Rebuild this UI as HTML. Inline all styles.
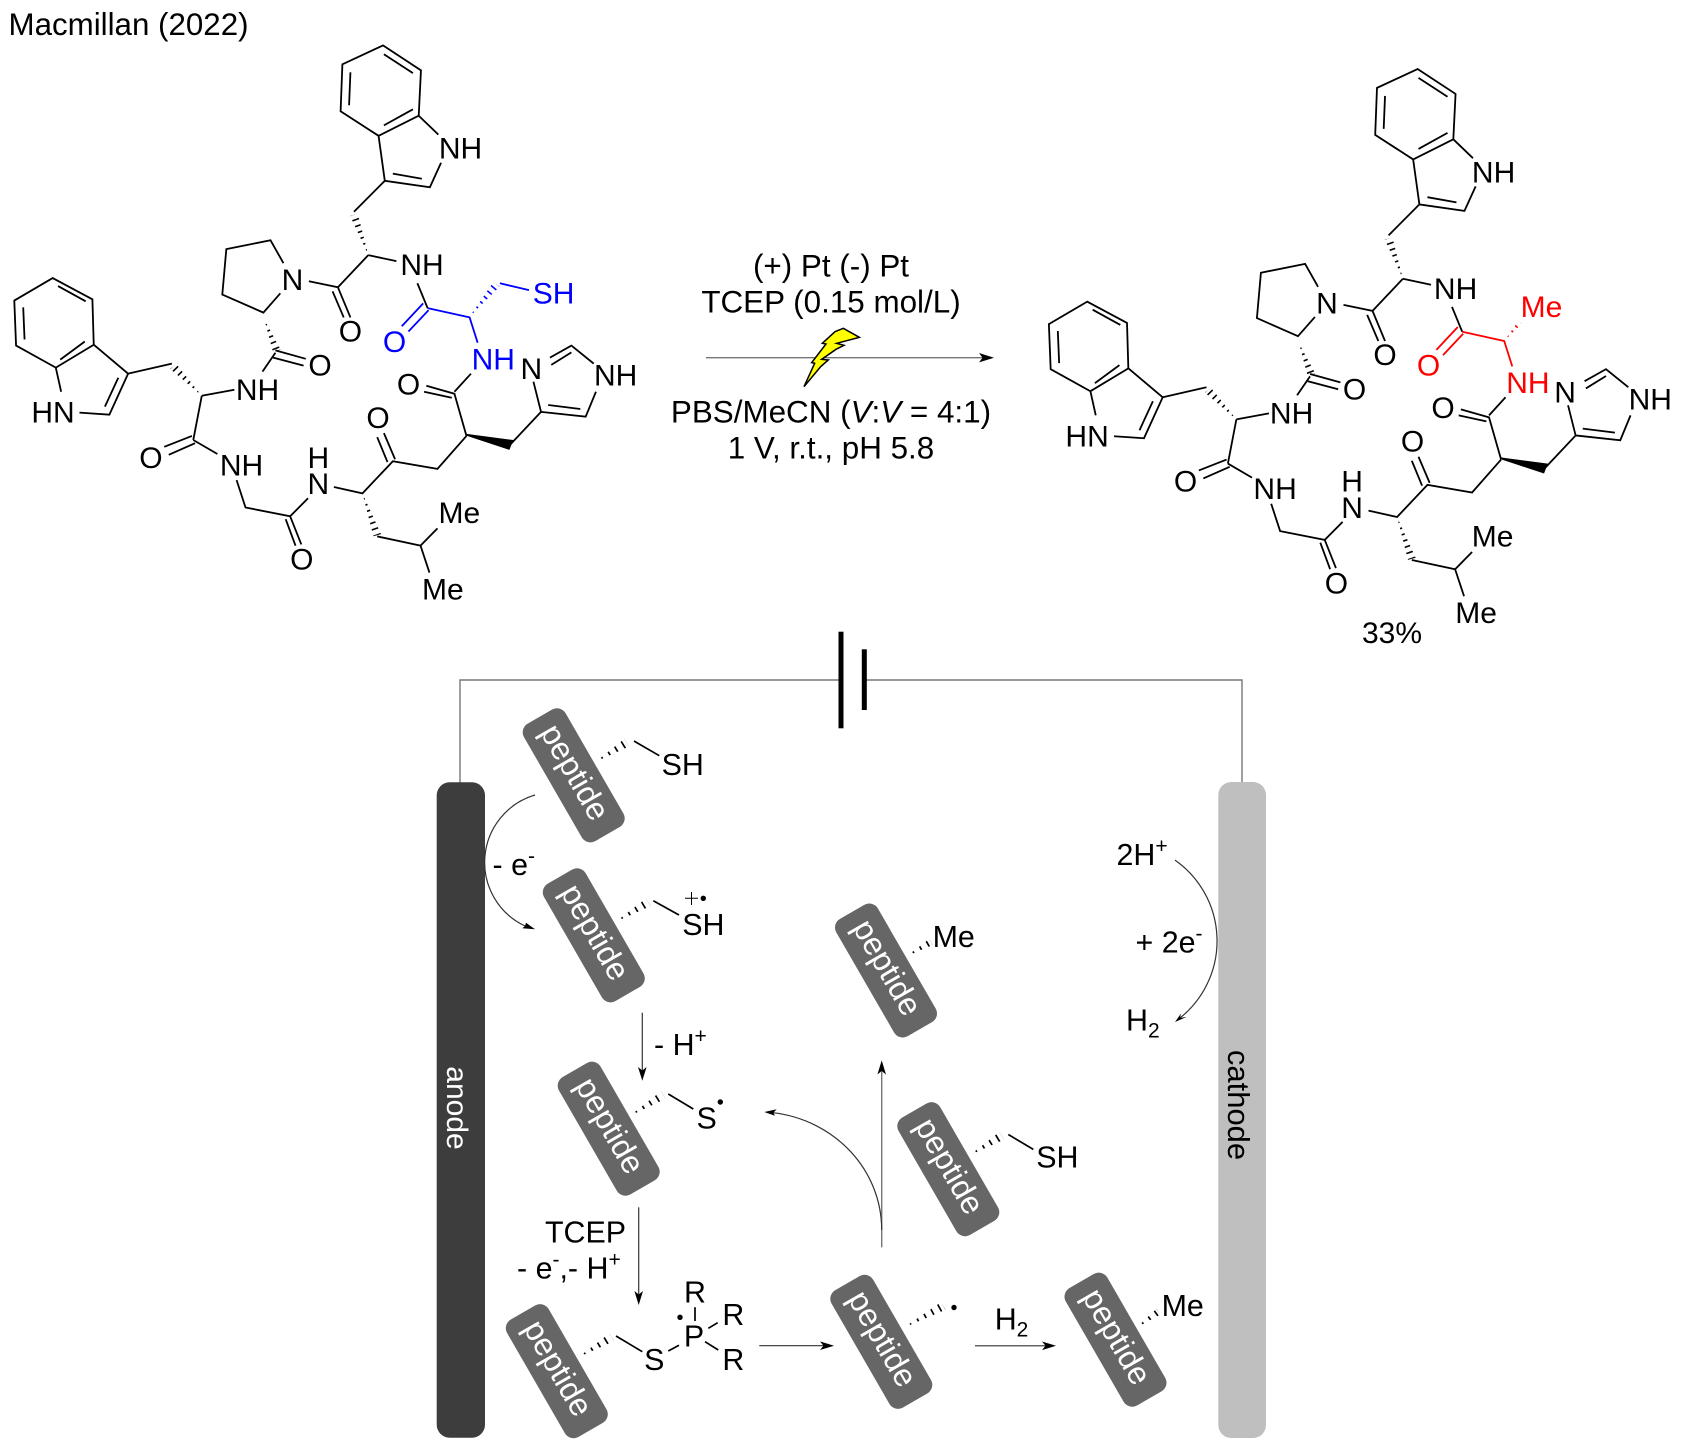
<!DOCTYPE html>
<html><head><meta charset="utf-8">
<style>
html,body{margin:0;padding:0;background:#fff}
svg{display:block}
text{font-family:"Liberation Sans",sans-serif;fill:#000}
.ns,.ns *{vector-effect:non-scaling-stroke}
.c text{text-anchor:middle}
.m{font-size:30px}
.r{font-size:31.4px}
.b{font-size:30.4px}
.pep text{font-size:32px;fill:#fff;text-anchor:middle}
</style></head>
<body>
<svg xmlns="http://www.w3.org/2000/svg" width="1681" height="1448" viewBox="0 0 1681 1448">
<defs>
<g id="bonds" class="ns" transform="scale(.4464,.4018)" fill="none" stroke="#000" stroke-width="1.8">
  <polygon points="825,635 801.6,532.3 784.4,537.7" fill="#000" stroke="none"/>
  <line x1="825" y1="635" x2="793" y2="535" stroke="#fff" stroke-width="13" stroke-dasharray="4.8 1.6"/>
  <polygon points="592,795 628.5,870 611.5,876" fill="#000" stroke="none"/>
  <line x1="592" y1="795" x2="620" y2="873" stroke="#fff" stroke-width="13" stroke-dasharray="4.8 1.6"/>
  <polygon points="452,985 394.8,906 381.2,918" fill="#000" stroke="none"/>
  <line x1="452" y1="985" x2="388" y2="912" stroke="#fff" stroke-width="13" stroke-dasharray="4.8 1.6"/>
  <polygon points="812,1228 853.6,1329.3 836.4,1334.7" fill="#000" stroke="none"/>
  <line x1="812" y1="1228" x2="845" y2="1332" stroke="#fff" stroke-width="13" stroke-dasharray="4.8 1.6"/>
  <!-- top indole -->
  <path d="M858 113L943 175L938 288L848 338L763 277L767 160ZM860 135L925 182M925 272L860 312M782 262L785 180M938 288L982 335M988 405L963 466L862 450L848 338M880 432L945 445M862 450L793 527"/>
  <!-- Trp-Pro -->
  <path d="M825 635L888 650M825 635L757 715L692 700M757 715L785 790M745 725L770 790M635 655L606 598L507 620L498 733L590 778L628 730"/>
  <path d="M617 872L685 893M612 890L680 910M617 878L588 925M525 970L452 985M385 905L287 930L245 1032L178 1027M265 940L235 1012M137 975L125 915L210 858L207 745L118 692L32 748L36 860L125 915M287 930L210 858M135 895L190 850M192 750L130 712M52 765L55 845"/>
  <path d="M452 985L433 1095M430 1085L368 1112M437 1103L378 1132M433 1095L487 1130M530 1195L550 1263L650 1285L690 1240M650 1285L675 1355M640 1292L662 1358M748 1212L812 1228L880 1148L980 1167L1045 1085M885 1143L860 1078M868 1150L845 1088M845 1335L942 1358L980 1315M942 1358L962 1425"/>
  <polygon points="1045,1082 1147,1097 1140,1117" fill="#000" stroke="#000"/>
  <path d="M1140 1110L1212 1025L1195 950M1212 1025L1312 1037L1335 975M1228 1008L1300 1018M1330 905L1280 860L1232 890M1280 877L1235 908"/>
  <path d="M1045 1085L1018 980L955 960M1012 990L950 975M1018 975L1055 930M958 767L935 705"/>
</g>
<g id="cys" class="ns" transform="scale(.4464,.4018)" fill="none" stroke="currentColor" stroke-width="1.8">
  <path d="M1070 853L1052 790L958 767M948 755L900 812M960 772L915 825"/>
</g>
<g id="pep" class="pep" >
  <rect x="-67.75" y="-24" width="135.5" height="48" rx="10" fill="#666"/>
  <text x="-2" y="8">peptide</text>
</g>
</defs>

<text x="8.5" y="35" style="font-size:31.3px">Macmillan (2022)</text>

<!-- left molecule -->
<g color="#0000ff">
  <g class="ns" transform="scale(.4464,.4018)">
    <polygon points="1052,788 1119,713.4 1105,702.6" fill="#0000ff"/>
    <line x1="1052" y1="788" x2="1112" y2="708" stroke="#fff" stroke-width="13" stroke-dasharray="4.8 1.6"/>
  </g>
  <use href="#bonds"/>
  <use href="#cys"/>
  <g class="ns" transform="scale(.4464,.4018)"><path d="M1120 705L1185 722" fill="none" stroke="#0000ff" stroke-width="1.8"/></g>
</g>
<g class="c m">
  <text x="460.5" y="158.7">NH</text>
  <text x="422" y="275.2">NH</text>
  <text x="292.4" y="290">N</text>
  <text x="350.4" y="341.5">O</text>
  <text x="320" y="375.7">O</text>
  <text x="257.5" y="399.8">NH</text>
  <text x="53" y="422.7">HN</text>
  <text x="150.9" y="468">O</text>
  <text x="241.5" y="475.3">NH</text>
  <text x="318.3" y="468">H</text>
  <text x="318.3" y="494.2">N</text>
  <text x="301.8" y="569.7">O</text>
  <text x="378" y="427.9">O</text>
  <text x="408.5" y="394.5">O</text>
  <text x="459.3" y="523.1">Me</text>
  <text x="442.9" y="599.4">Me</text>
  <text x="531.3" y="378.9">N</text>
  <text x="615.7" y="385.7">NH</text>
  <text x="553.6" y="303.3" style="fill:#0000ff">SH</text>
  <text x="394.6" y="352" style="fill:#0000ff">O</text>
  <text x="493.3" y="369.6" style="fill:#0000ff">NH</text>
</g>

<!-- right molecule -->
<g transform="translate(1034.6,23.6)" color="#ff0000">
  <g class="ns" transform="scale(.4464,.4018)">
    <polygon points="1052.6,788.8 1091,747 1083,741" fill="#ff0000"/>
    <line x1="1052.6" y1="788.8" x2="1087" y2="744" stroke="#fff" stroke-width="10" stroke-dasharray="4.8 1.6"/>
  </g>
  <use href="#bonds"/>
  <use href="#cys"/>
  <g class="c m">
    <text x="459" y="158.7">NH</text>
    <text x="421" y="275.2">NH</text>
    <text x="292.4" y="290">N</text>
    <text x="350.4" y="341.5">O</text>
    <text x="320" y="375.7">O</text>
    <text x="257" y="399.8">NH</text>
    <text x="52.5" y="422.7">HN</text>
    <text x="150.9" y="468">O</text>
    <text x="240.5" y="475.3">NH</text>
    <text x="317.5" y="468">H</text>
    <text x="317.5" y="494.2">N</text>
    <text x="301.8" y="569.7">O</text>
    <text x="378" y="427.9">O</text>
    <text x="408.5" y="394.5">O</text>
    <text x="458" y="523.1">Me</text>
    <text x="441.5" y="599.4">Me</text>
    <text x="530.5" y="378.9">N</text>
    <text x="615.7" y="385.7">NH</text>
    <text x="506.9" y="293.6" style="fill:#ff0000">Me</text>
    <text x="394" y="352" style="fill:#ff0000">O</text>
    <text x="493.3" y="369.6" style="fill:#ff0000">NH</text>
  </g>
</g>
<text x="1392" y="643" class="m" text-anchor="middle">33%</text>

<!-- reaction arrow -->
<line x1="706" y1="357.7" x2="985" y2="357.7" stroke="#777" stroke-width="1.4"/>
<polygon points="994,357.7 979,353 982.5,357.7 979,362.4" fill="#000"/>
<g transform="translate(790,320) scale(.3333)">
  <polygon points="208,52 160,25 135,35 97,70 108,72 65,128 74,130 42,200 92,140 115,120 95,118 138,88 162,76 140,70" fill="#ffff00" stroke="#000" stroke-width="4.5" stroke-linejoin="miter"/>
</g>
<g class="c r">
  <text x="831" y="276.7">(+) Pt (-) Pt</text>
  <text x="831" y="312.3">TCEP (0.15 mol/L)</text>
  <text x="831" y="422.7">PBS/MeCN (<tspan font-style="italic">V</tspan>:<tspan font-style="italic">V</tspan> = 4:1)</text>
  <text x="831" y="458.3">1 V, r.t., pH 5.8</text>
</g>

<!-- circuit -->
<path d="M460 783V680H841M864 680H1242V786" fill="none" stroke="#777" stroke-width="1.4"/>
<rect x="838.5" y="631.7" width="5" height="96.6" fill="#000"/>
<rect x="861.8" y="649.3" width="5" height="60.7" fill="#000"/>
<rect x="436.7" y="782.3" width="48.3" height="655.4" rx="13" fill="#3d3d3d"/>
<rect x="1218.3" y="782" width="47.7" height="656" rx="13" fill="#bfbfbf"/>
<text transform="translate(447,1108) rotate(90)" text-anchor="middle" style="font-size:30px;fill:#fff">anode</text>
<text transform="translate(1228,1105) rotate(90)" text-anchor="middle" style="font-size:31px">cathode</text>

<!-- hashed bonds bottom -->
<g>
  <g fill="#000">
    <polygon points="595.7,761.7 629,746.5 624.4,738.9"/>
    <polygon points="615.7,921.7 650.6,906.1 646,898.5"/>
    <polygon points="630,1115.7 665.6,1098.8 661,1091.2"/>
    <polygon points="578.3,1357.3 614,1341.1 609.4,1333.5"/>
    <polygon points="904,1327.5 945.6,1309.8 941,1302.2"/>
    <polygon points="970,1155 1004,1139.6 999.4,1132"/>
    <polygon points="907,956 932.8,945 929.2,939"/>
    <polygon points="1136.7,1327.5 1160,1314.7 1156.5,1308.7"/>
  </g>
  <g stroke="#fff" stroke-width="12" stroke-dasharray="6.6 1.7" fill="none">
    <line x1="595.7" y1="761.7" x2="626.7" y2="742.7"/>
    <line x1="615.7" y1="921.7" x2="648.3" y2="902.3"/>
    <line x1="630" y1="1115.7" x2="663.3" y2="1095"/>
    <line x1="578.3" y1="1357.3" x2="611.7" y2="1337.3"/>
    <line x1="904" y1="1327.5" x2="943.3" y2="1306"/>
    <line x1="970" y1="1155" x2="1001.7" y2="1135.8"/>
    <line x1="907" y1="956" x2="931" y2="942"/>
    <line x1="1136.7" y1="1327.5" x2="1158.3" y2="1311.7"/>
  </g>
</g>
<!-- pills -->
<use href="#pep" transform="translate(573.7,775.3) rotate(60)"/>
<use href="#pep" transform="translate(593.8,935.3) rotate(60)"/>
<use href="#pep" transform="translate(886,970.5) rotate(60)"/>
<use href="#pep" transform="translate(608.7,1128.7) rotate(60)"/>
<use href="#pep" transform="translate(556.8,1371.2) rotate(60)"/>
<use href="#pep" transform="translate(881.3,1341.8) rotate(60)"/>
<use href="#pep" transform="translate(1115.5,1339.7) rotate(60)"/>
<use href="#pep" transform="translate(948.3,1169.2) rotate(60)"/>

<!-- plain bonds -->
<path d="M634 741L659.3 755.7M653.3 900.7L679 915M668.3 1094L693.3 1109M616 1336L642.3 1351.7M668.3 1351L679 1345.3M695 1307.3V1321M708.3 1328.3L717.7 1322.7M705 1341.7L718.3 1350M1008.3 1134.5L1033.3 1149.4" fill="none" stroke="#000" stroke-width="1.7"/>
<path d="M685 898.3H698M691.5 892V905" fill="none" stroke="#000" stroke-width="1"/>
<circle cx="703.3" cy="898.3" r="2.7"/>
<circle cx="720.3" cy="1102" r="2.7"/>
<circle cx="680" cy="1317.3" r="2.7"/>
<circle cx="954" cy="1307.5" r="2.7"/>

<!-- labels -->
<g class="c b">
  <text x="682.7" y="775">SH</text>
  <text x="703.3" y="935">SH</text>
  <text x="706.7" y="1128.3">S</text>
  <text x="654.3" y="1370">S</text>
  <text x="694" y="1346.7">P</text>
  <text x="695" y="1302.3">R</text>
  <text x="733.3" y="1325">R</text>
  <text x="733.3" y="1370">R</text>
  <text x="953.7" y="947">Me</text>
  <text x="1182.7" y="1316">Me</text>
  <text x="1057.3" y="1167.7">SH</text>
</g>
<g class="b">
  <text x="492.5" y="875">- e<tspan font-size="21" dy="-12">-</tspan></text>
  <text x="654" y="1055">- H<tspan font-size="21" dy="-12">+</tspan></text>
  <text x="626" y="1242.7" text-anchor="end">TCEP</text>
  <text x="517" y="1278.7">- e<tspan font-size="21" dy="-12">-</tspan><tspan dy="12">,- H</tspan><tspan font-size="21" dy="-12">+</tspan></text>
  <text x="1116.5" y="865">2H<tspan font-size="21" dy="-12">+</tspan></text>
  <text x="1135.5" y="952.6">+ 2e<tspan font-size="21" dy="-12">-</tspan></text>
  <text x="1126" y="1030.5">H<tspan font-size="21" dy="7">2</tspan></text>
  <text x="994.7" y="1329.6">H<tspan font-size="21" dy="7">2</tspan></text>
</g>

<!-- arrows -->
<g fill="none" stroke="#333" stroke-width="1.2">
  <path d="M535 795A70.3 70.3 0 0 0 525 926"/>
  <path d="M642.3 1012.7V1072"/>
  <path d="M638.7 1207.3V1296"/>
  <path d="M759.3 1345.7H826"/>
  <path d="M975 1345.8H1048"/>
  <path d="M881.7 1247.4V1068" stroke="#777" stroke-width="1.4"/>
  <path d="M881.7 1230C881.7 1170 835 1120 773 1112.7"/>
  <path d="M1175 860.1A98.7 98.7 0 0 1 1180 1018"/>
</g>
<g fill="#000">
  <polygon points="535,929.3 526,922.7 525,926 522.3,928.3"/>
  <polygon points="642.3,1080.7 638,1067 642.3,1070.5 646.6,1067"/>
  <polygon points="638.7,1305 634.4,1291 638.7,1294.5 643,1291"/>
  <polygon points="834,1345.7 820,1341.4 823.5,1345.7 820,1350"/>
  <polygon points="1056,1345.8 1042,1341.5 1045.5,1345.8 1042,1350.1"/>
  <polygon points="881.7,1060.4 877.4,1074.5 881.7,1071 886,1074.5"/>
  <polygon points="764.3,1112 776.7,1109.3 773.3,1112.7 775,1115.7"/>
  <polygon points="1175,1022 1186.7,1016.9 1180,1018 1181,1013.5"/>
</g>
</svg>
</body></html>
